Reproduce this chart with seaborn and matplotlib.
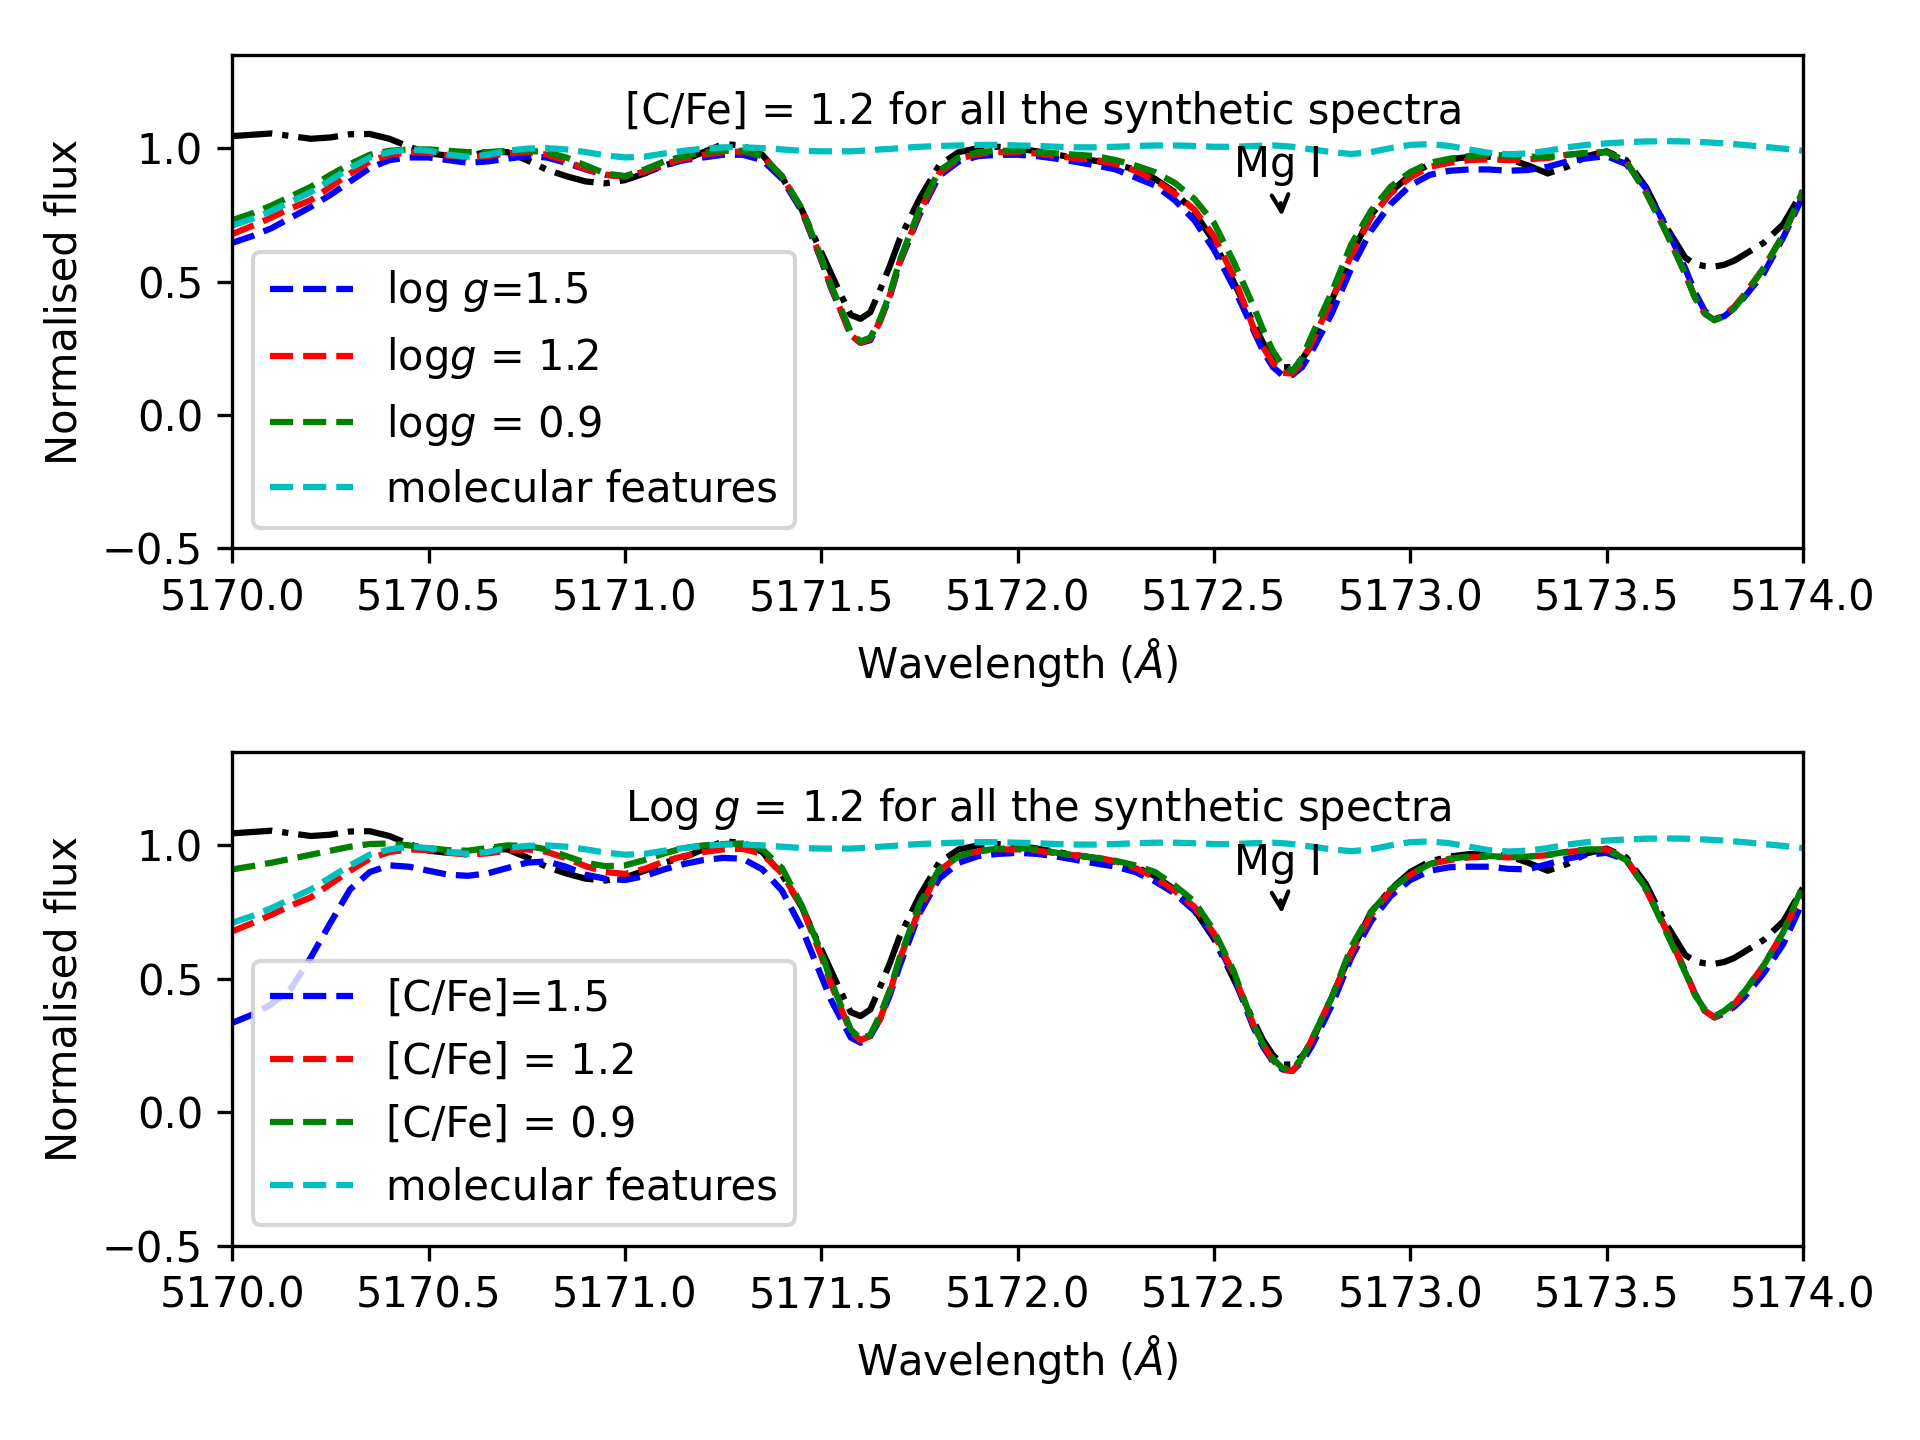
import matplotlib
matplotlib.use("Agg")
import matplotlib.pyplot as plt
import seaborn as sns

# ---------------- data ----------------
wavelength = [
    5170.00, 5170.05, 5170.10, 5170.15, 5170.20, 5170.25, 5170.30, 5170.35, 5170.40, 5170.45,
    5170.50, 5170.55, 5170.60, 5170.65, 5170.70, 5170.75, 5170.80, 5170.85, 5170.90, 5170.95,
    5171.00, 5171.05, 5171.10, 5171.15, 5171.20, 5171.25, 5171.30, 5171.35, 5171.40, 5171.45,
    5171.50, 5171.525, 5171.55, 5171.575, 5171.60, 5171.625, 5171.65, 5171.675, 5171.70,
    5171.75, 5171.80, 5171.85, 5171.90, 5171.95,
    5172.00, 5172.05, 5172.10, 5172.15, 5172.20, 5172.25, 5172.30, 5172.35, 5172.40, 5172.45,
    5172.50, 5172.55, 5172.60, 5172.625, 5172.65, 5172.675, 5172.70, 5172.725, 5172.75,
    5172.80, 5172.85, 5172.90, 5172.95,
    5173.00, 5173.05, 5173.10, 5173.15, 5173.20, 5173.25, 5173.30, 5173.35, 5173.40, 5173.45,
    5173.50, 5173.55, 5173.60, 5173.65, 5173.70, 5173.725, 5173.75, 5173.775, 5173.80,
    5173.825, 5173.85, 5173.90, 5173.95,
    5174.00,
]

flux_observed = [
    1.045, 1.050, 1.055, 1.045, 1.035, 1.040, 1.052, 1.053, 1.035, 1.005,
    0.980, 0.972, 0.972, 0.985, 0.985, 0.955, 0.920, 0.895, 0.875, 0.868,
    0.880, 0.905, 0.935, 0.955, 0.985, 1.015, 1.010, 0.975, 0.890, 0.770,
    0.610, 0.530, 0.450, 0.375, 0.360, 0.385, 0.470, 0.560, 0.660,
    0.810, 0.935, 0.985, 1.000, 1.005,
    0.998, 0.988, 0.975, 0.963, 0.952, 0.938, 0.920, 0.885, 0.835, 0.760,
    0.650, 0.500, 0.345, 0.270, 0.215, 0.178, 0.180, 0.210, 0.265,
    0.430, 0.600, 0.750, 0.835,
    0.900, 0.940, 0.958, 0.967, 0.968, 0.960, 0.935, 0.905, 0.930, 0.970,
    0.988, 0.955, 0.855, 0.710, 0.590, 0.565, 0.558, 0.556, 0.563,
    0.578, 0.600, 0.645, 0.715,
    0.840,
]

flux_molecular = [
    0.710, 0.735, 0.765, 0.800, 0.835, 0.880, 0.925, 0.965, 0.985, 0.995,
    0.990, 0.975, 0.968, 0.975, 0.990, 0.998, 1.000, 0.995, 0.985, 0.973,
    0.965, 0.968, 0.980, 0.990, 0.998, 1.003, 1.003, 1.000, 0.995, 0.990,
    0.988, 0.988, 0.988, 0.988, 0.990, 0.992, 0.995, 0.997, 1.000,
    1.005, 1.008, 1.010, 1.012, 1.012,
    1.010, 1.008, 1.005, 1.003, 1.003, 1.005, 1.008, 1.010, 1.010, 1.008,
    1.005, 1.005, 1.008, 1.009, 1.010, 1.008, 1.005, 1.000, 0.995,
    0.985, 0.978, 0.985, 1.000,
    1.012, 1.015, 1.008, 0.995, 0.982, 0.977, 0.980, 0.990, 1.003, 1.012,
    1.018, 1.022, 1.025, 1.026, 1.025, 1.024, 1.022, 1.020, 1.018,
    1.015, 1.012, 1.005, 0.998,
    0.990,
]

# log g = 1.2, [C/Fe] = 1.2 (shared by both panels)
flux_logg12_cfe12 = [
    0.678, 0.708, 0.740, 0.775, 0.805, 0.855, 0.905, 0.950, 0.975, 0.985,
    0.982, 0.972, 0.965, 0.970, 0.980, 0.985, 0.976, 0.952, 0.922, 0.900,
    0.893, 0.912, 0.940, 0.960, 0.975, 0.985, 0.987, 0.968, 0.895, 0.770,
    0.585, 0.480, 0.390, 0.300, 0.270, 0.285, 0.350, 0.450, 0.575,
    0.760, 0.905, 0.960, 0.978, 0.985,
    0.985, 0.980, 0.970, 0.962, 0.955, 0.940, 0.915, 0.880, 0.830, 0.770,
    0.670, 0.520, 0.330, 0.255, 0.195, 0.158, 0.155, 0.200, 0.275,
    0.430, 0.600, 0.740, 0.830,
    0.890, 0.930, 0.945, 0.955, 0.958, 0.955, 0.958, 0.963, 0.975, 0.982,
    0.985, 0.950, 0.835, 0.690, 0.530, 0.440, 0.380, 0.355, 0.375,
    0.405, 0.450, 0.550, 0.675,
    0.830,
]

# log g = 1.5, [C/Fe] = 1.2
flux_logg15_cfe12 = [
    0.645, 0.670, 0.700, 0.740, 0.780, 0.825, 0.875, 0.925, 0.955, 0.965,
    0.965, 0.955, 0.945, 0.950, 0.960, 0.970, 0.965, 0.945, 0.920, 0.900,
    0.895, 0.910, 0.935, 0.955, 0.965, 0.975, 0.975, 0.955, 0.885, 0.765,
    0.580, 0.475, 0.390, 0.300, 0.270, 0.280, 0.355, 0.445, 0.570,
    0.750, 0.895, 0.950, 0.970, 0.975,
    0.975, 0.970, 0.960, 0.948, 0.935, 0.920, 0.890, 0.860, 0.805, 0.730,
    0.620, 0.480, 0.320, 0.240, 0.180, 0.148, 0.150, 0.180, 0.240,
    0.380, 0.550, 0.690, 0.790,
    0.860, 0.900, 0.915, 0.920, 0.920, 0.915, 0.918, 0.930, 0.950, 0.962,
    0.970, 0.940, 0.850, 0.710, 0.550, 0.460, 0.390, 0.360, 0.370,
    0.400, 0.440, 0.530, 0.665,
    0.820,
]

# log g = 0.9, [C/Fe] = 1.2
flux_logg09_cfe12 = [
    0.730, 0.755, 0.785, 0.820, 0.855, 0.900, 0.940, 0.975, 0.990, 0.995,
    0.995, 0.990, 0.985, 0.985, 0.990, 0.990, 0.985, 0.965, 0.935, 0.905,
    0.895, 0.920, 0.950, 0.970, 0.985, 0.990, 0.990, 0.970, 0.895, 0.775,
    0.590, 0.485, 0.400, 0.310, 0.275, 0.290, 0.360, 0.455, 0.580,
    0.770, 0.915, 0.965, 0.985, 0.990,
    0.990, 0.985, 0.980, 0.975, 0.970, 0.955, 0.935, 0.910, 0.870, 0.810,
    0.720, 0.575, 0.410, 0.320, 0.240, 0.185, 0.165, 0.215, 0.300,
    0.460, 0.640, 0.765, 0.855,
    0.910, 0.945, 0.960, 0.970, 0.975, 0.972, 0.968, 0.967, 0.975, 0.982,
    0.985, 0.950, 0.835, 0.690, 0.530, 0.440, 0.380, 0.355, 0.370,
    0.400, 0.445, 0.550, 0.675,
    0.840,
]

# [C/Fe] = 1.5, log g = 1.2
flux_cfe15_logg12 = [
    0.335, 0.365, 0.405, 0.465, 0.580, 0.710, 0.835, 0.900, 0.925, 0.920,
    0.905, 0.890, 0.886, 0.895, 0.915, 0.935, 0.940, 0.920, 0.890, 0.875,
    0.870, 0.885, 0.910, 0.930, 0.945, 0.953, 0.950, 0.910, 0.830, 0.690,
    0.510, 0.420, 0.350, 0.280, 0.260, 0.285, 0.350, 0.440, 0.550,
    0.745, 0.875, 0.935, 0.960, 0.968,
    0.972, 0.968, 0.958, 0.945, 0.932, 0.920, 0.900, 0.865, 0.820, 0.755,
    0.660, 0.510, 0.320, 0.245, 0.190, 0.160, 0.155, 0.190, 0.250,
    0.400, 0.580, 0.715, 0.810,
    0.870, 0.905, 0.918, 0.920, 0.920, 0.912, 0.910, 0.930, 0.950, 0.965,
    0.972, 0.945, 0.840, 0.690, 0.530, 0.445, 0.380, 0.355, 0.370,
    0.395, 0.430, 0.520, 0.630,
    0.790,
]

# [C/Fe] = 0.9, log g = 1.2
flux_cfe09_logg12 = [
    0.910, 0.922, 0.935, 0.950, 0.965, 0.980, 0.995, 1.005, 1.007, 1.000,
    0.990, 0.982, 0.980, 0.990, 1.000, 0.998, 0.985, 0.960, 0.935, 0.922,
    0.925, 0.945, 0.970, 0.990, 1.000, 1.005, 1.007, 0.985, 0.915, 0.775,
    0.600, 0.490, 0.400, 0.310, 0.275, 0.290, 0.365, 0.460, 0.580,
    0.780, 0.910, 0.960, 0.980, 0.987,
    0.990, 0.985, 0.972, 0.962, 0.953, 0.942, 0.925, 0.900, 0.850, 0.790,
    0.680, 0.530, 0.330, 0.255, 0.200, 0.165, 0.160, 0.205, 0.275,
    0.430, 0.620, 0.750, 0.835,
    0.890, 0.930, 0.950, 0.958, 0.960, 0.956, 0.958, 0.965, 0.976, 0.985,
    0.985, 0.945, 0.840, 0.680, 0.525, 0.440, 0.385, 0.360, 0.380,
    0.410, 0.450, 0.550, 0.675,
    0.850,
]

top_labels = ["log $g$=1.5", "log$g$ = 1.2", "log$g$ = 0.9", "molecular features"]
bottom_labels = ["[C/Fe]=1.5", "[C/Fe] = 1.2", "[C/Fe] = 0.9", "molecular features"]
top_note = "[C/Fe] = 1.2 for all the synthetic spectra"
bottom_note = "Log $g$ = 1.2 for all the synthetic spectra"
x_ticks = [5170.0, 5170.5, 5171.0, 5171.5, 5172.0, 5172.5, 5173.0, 5173.5, 5174.0]
y_ticks = [-0.5, 0.0, 0.5, 1.0]
series_colors = ["b", "r", "g", "c"]

# ---------------- figure ----------------
fig, axes = plt.subplots(2, 1, figsize=(6.4, 4.8), dpi=300)
fig.subplots_adjust(left=0.121, right=0.939, top=0.962, bottom=0.135, hspace=0.4125)


def draw_panel(ax, series, labels, note):
    sns.lineplot(x=wavelength, y=flux_observed, ax=ax, color="k",
                 linestyle="-.", linewidth=1.5, errorbar=None)
    handles = []
    for vals, col in zip(series, series_colors):
        sns.lineplot(x=wavelength, y=vals, ax=ax, color=col,
                     linestyle="--", linewidth=1.5, errorbar=None)
        handles.append(ax.lines[-1])
    ax.legend(handles, labels, loc="lower left")
    ax.text(5171.0, 1.09, note, fontsize=10)
    ax.annotate("Mg I", xy=(5172.673, 0.745), xytext=(5172.55, 0.89),
                arrowprops=dict(arrowstyle="->", color="k", lw=1.0, shrinkB=0))
    ax.set_xlim(5170.0, 5174.0)
    ax.set_ylim(-0.5, 1.35)
    ax.set_xticks(x_ticks)
    ax.set_yticks(y_ticks)
    ax.ticklabel_format(axis="x", useOffset=False)
    ax.set_xlabel(r"Wavelength ($\AA$)")
    ax.set_ylabel("Normalised flux")


draw_panel(axes[0],
           [flux_logg15_cfe12, flux_logg12_cfe12, flux_logg09_cfe12, flux_molecular],
           top_labels, top_note)
draw_panel(axes[1],
           [flux_cfe15_logg12, flux_logg12_cfe12, flux_cfe09_logg12, flux_molecular],
           bottom_labels, bottom_note)

fig.savefig("out.png", dpi=300)
